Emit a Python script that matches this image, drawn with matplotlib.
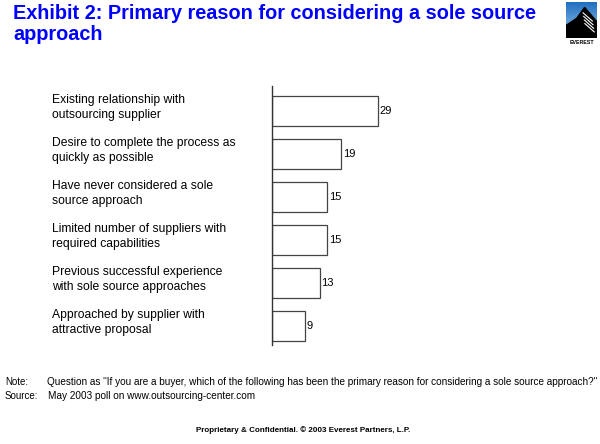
import matplotlib
matplotlib.use("Agg")
import matplotlib.pyplot as plt
import matplotlib.transforms as mtransforms
from matplotlib.patches import Polygon
import numpy as np

plt.rcParams['font.family'] = ['Liberation Sans', 'DejaVu Sans']

categories = [
    "Existing relationship with\noutsourcing supplier",
    "Desire to complete the process as\nquickly as possible",
    "Have never considered a sole\nsource approach",
    "Limited number of suppliers with\nrequired capabilities",
    "Previous successful experience\nwith sole source approaches",
    "Approached by supplier with\nattractive proposal",
]
values = [29, 19, 15, 15, 13, 9]

title = "Exhibit 2: Primary reason for considering a sole source\napproach"
note_label = "Note:"
note_text = 'Question as "If you are a buyer, which of the following has been the primary reason for considering a sole source approach?"'
source_label = "Source:"
source_text = "May 2003 poll on www.outsourcing-center.com"
footer = "Proprietary & Confidential. \u00a9 2003 Everest Partners, L.P."

W, H = 600, 444
fig = plt.figure(figsize=(6, 4.44), dpi=100)

# main axes: axis line at x=272px, spans y 86..345 px
xmax = 40
px_per_unit = 106 / 29
ax_w = xmax * px_per_unit
ax = fig.add_axes([272 / W, (H - 345) / H, ax_w / W, (345 - 86) / H])
pos = np.arange(len(values))
ax.barh(pos, values, height=0.70, color='white', edgecolor='#444444', linewidth=0.9)
ax.set_xlim(0, xmax)
ax.set_ylim(5.44, -0.58)
for s in ['top', 'right', 'bottom']:
    ax.spines[s].set_visible(False)
ax.spines['left'].set_color('#333333')
ax.spines['left'].set_linewidth(1.0)
ax.set_xticks([])
ax.set_yticks([])
ax.patch.set_alpha(0)

for p, v in zip(pos, values):
    ax.text(v + 0.5, p, str(v), va='center', ha='left', fontsize=8, color='black')

trans = mtransforms.blended_transform_factory(fig.transFigure, ax.transData)
for p, c in zip(pos, categories):
    ax.text(52 / W, p - 0.08, c, transform=trans, ha='left', va='center',
            fontsize=8.7, color='black', linespacing=1.35)

# title
fig.text(13 / W, 1 - 4 / H, title, ha='left', va='top', fontsize=14.3,
         fontweight='bold', color='#0000FF', linespacing=1.15)

# note and source
fig.text(5 / W, 1 - 382 / H, note_label, ha='left', va='center', fontsize=7, color='black')
fig.text(47 / W, 1 - 382 / H, note_text, ha='left', va='center', fontsize=7.2, color='black')
fig.text(5 / W, 1 - 396 / H, source_label, ha='left', va='center', fontsize=7, color='black')
fig.text(48 / W, 1 - 396 / H, source_text, ha='left', va='center', fontsize=7.2, color='black')

# footer
fig.text(303 / W, 1 - 430 / H, footer, ha='center', va='center', fontsize=5.8,
         fontweight='bold', color='black')

# logo
lax = fig.add_axes([566 / W, 1 - 38 / H, 31 / W, 36 / H])
grad = np.linspace(0, 1, 100).reshape(-1, 1)
cmap = matplotlib.colors.LinearSegmentedColormap.from_list('g', ['#1f6fc0', '#9cc8ee'])
lax.imshow(grad, aspect='auto', cmap=cmap, extent=[0, 1, 0, 1])
lax.add_patch(Polygon([[0, 0], [0, 0.35], [0.35, 0.55], [0.6, 0.85], [0.75, 0.7],
                       [1, 0.45], [1, 0]], closed=True, color='black'))
for i in range(4):
    y0 = 0.72 - i * 0.1
    lax.plot([0.55 + i * 0.02, 0.85 + i * 0.02], [y0 - 0.02, y0 - 0.25], color='white', lw=0.8)
lax.set_xlim(0, 1)
lax.set_ylim(0, 1)
lax.axis('off')
fig.text(581.5 / W, 1 - 43 / H, "EVEREST", ha='center', va='center', fontsize=3.8,
         fontweight='bold', color='black')

fig.savefig("out.png", dpi=100)
